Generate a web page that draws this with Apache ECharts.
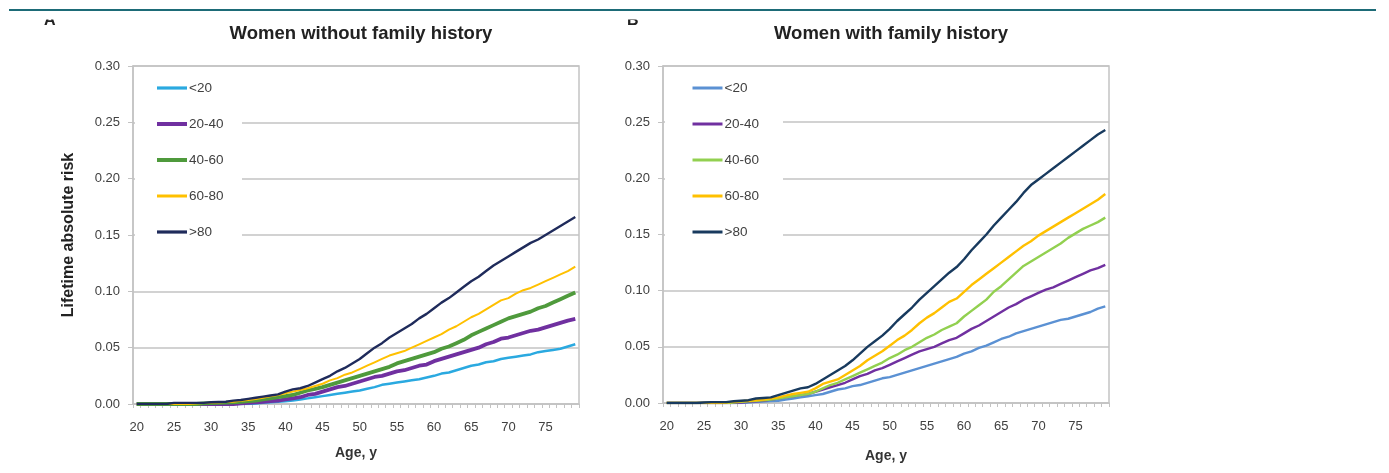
<!DOCTYPE html>
<html><head><meta charset="utf-8">
<script src="https://cdn.jsdelivr.net/npm/echarts@6/dist/echarts.min.js"></script>
<style>html,body{margin:0;padding:0;background:#fff}#c{width:1389px;height:473px}</style>
</head><body><div id="c"></div><script>
// ---- data ----
const ages = [20,21,22,23,24,25,26,27,28,29,30,31,32,33,34,35,36,37,38,39,40,41,42,43,44,45,46,47,48,49,50,51,52,53,54,55,56,57,58,59,60,61,62,63,64,65,66,67,68,69,70,71,72,73,74,75,76,77,78,79];
const groupNames = ['<20','20-40','40-60','60-80','>80'];
const titleLeft = 'Women without family history';
const titleRight = 'Women with family history';

// Women without family history
const noFH_lt20 = [0,0,0,0,0,0,0,0,0,0,0,0,0,0,0,0,0.0005,0.001,0.0015,0.002,0.0025,0.003,0.004,0.005,0.006,0.007,0.008,0.009,0.010,0.011,0.012,0.0135,0.015,0.017,0.018,0.019,0.020,0.021,0.022,0.0235,0.025,0.027,0.028,0.030,0.032,0.034,0.035,0.037,0.038,0.040,0.041,0.042,0.043,0.044,0.046,0.047,0.048,0.049,0.051,0.053];
const noFH_20_40 = [0,0,0,0,0,0,0,0,0,0,0,0,0,0,0.0005,0.001,0.0015,0.002,0.0025,0.003,0.004,0.005,0.006,0.008,0.009,0.011,0.013,0.015,0.016,0.018,0.020,0.022,0.024,0.025,0.027,0.029,0.030,0.032,0.034,0.035,0.038,0.040,0.042,0.044,0.046,0.048,0.050,0.053,0.055,0.058,0.059,0.061,0.063,0.065,0.066,0.068,0.070,0.072,0.074,0.0755];
const noFH_40_60 = [0,0,0,0,0,0,0,0,0,0.0005,0.0008,0.001,0.0012,0.0015,0.002,0.0025,0.003,0.004,0.005,0.006,0.007,0.008,0.010,0.012,0.0135,0.015,0.017,0.019,0.021,0.023,0.025,0.027,0.029,0.031,0.033,0.036,0.038,0.040,0.042,0.044,0.046,0.049,0.051,0.054,0.057,0.061,0.064,0.067,0.070,0.073,0.076,0.078,0.080,0.082,0.085,0.087,0.090,0.093,0.096,0.099];
const noFH_60_80 = [0,0,0,0,0,0,0,0,0.0005,0.0008,0.001,0.0013,0.0017,0.002,0.0028,0.0035,0.0045,0.0055,0.0068,0.008,0.0095,0.011,0.0125,0.014,0.016,0.018,0.021,0.023,0.026,0.028,0.031,0.034,0.037,0.040,0.043,0.045,0.047,0.050,0.053,0.056,0.059,0.062,0.066,0.069,0.073,0.077,0.080,0.084,0.088,0.092,0.094,0.098,0.101,0.103,0.106,0.109,0.112,0.115,0.118,0.122];
const noFH_gt80 = [0,0,0,0,0,0.001,0.001,0.001,0.001,0.001,0.0015,0.0018,0.002,0.003,0.0035,0.0045,0.0055,0.0065,0.0075,0.0085,0.011,0.013,0.014,0.016,0.019,0.022,0.025,0.029,0.032,0.036,0.040,0.045,0.050,0.054,0.059,0.063,0.067,0.071,0.076,0.080,0.085,0.090,0.094,0.099,0.104,0.109,0.113,0.118,0.123,0.127,0.131,0.135,0.139,0.143,0.146,0.150,0.154,0.158,0.162,0.166];

// Women with family history
const FH_lt20 = [0,0,0,0,0,0,0,0,0,0,0,0.0005,0.001,0.0013,0.0017,0.002,0.003,0.004,0.005,0.006,0.007,0.008,0.010,0.012,0.013,0.015,0.016,0.018,0.020,0.022,0.023,0.025,0.027,0.029,0.031,0.033,0.035,0.037,0.039,0.041,0.044,0.046,0.049,0.051,0.054,0.057,0.059,0.062,0.064,0.066,0.068,0.070,0.072,0.074,0.075,0.077,0.079,0.081,0.084,0.086];
const FH_20_40 = [0,0,0,0,0,0,0,0,0,0,0.0005,0.001,0.0015,0.002,0.003,0.004,0.005,0.006,0.007,0.008,0.010,0.012,0.014,0.016,0.018,0.021,0.024,0.026,0.029,0.031,0.034,0.037,0.040,0.043,0.046,0.048,0.050,0.053,0.056,0.058,0.062,0.066,0.069,0.073,0.077,0.081,0.085,0.088,0.092,0.095,0.098,0.101,0.103,0.106,0.109,0.112,0.115,0.118,0.120,0.123];
const FH_40_60 = [0,0,0,0,0,0,0,0,0,0.0005,0.001,0.0015,0.002,0.0025,0.003,0.004,0.005,0.006,0.007,0.008,0.010,0.013,0.016,0.018,0.021,0.024,0.027,0.030,0.033,0.036,0.040,0.043,0.047,0.050,0.054,0.058,0.061,0.065,0.068,0.071,0.077,0.082,0.087,0.092,0.099,0.104,0.110,0.116,0.122,0.126,0.130,0.134,0.138,0.142,0.147,0.151,0.155,0.158,0.161,0.165];
const FH_60_80 = [0,0,0,0,0,0,0,0,0.0005,0.001,0.0015,0.002,0.0025,0.003,0.004,0.005,0.0065,0.008,0.009,0.010,0.013,0.017,0.019,0.021,0.025,0.029,0.033,0.038,0.042,0.046,0.051,0.056,0.060,0.065,0.071,0.076,0.080,0.085,0.090,0.093,0.099,0.105,0.110,0.115,0.120,0.125,0.130,0.135,0.140,0.144,0.149,0.153,0.157,0.161,0.165,0.169,0.173,0.177,0.181,0.186];
const FH_gt80 = [0,0,0,0,0,0.0005,0.0008,0.0008,0.0008,0.0015,0.002,0.0025,0.004,0.0045,0.005,0.007,0.009,0.011,0.013,0.014,0.017,0.021,0.025,0.029,0.033,0.038,0.044,0.050,0.055,0.060,0.066,0.073,0.079,0.085,0.092,0.098,0.104,0.110,0.116,0.121,0.128,0.136,0.143,0.150,0.158,0.165,0.172,0.179,0.187,0.194,0.199,0.204,0.209,0.214,0.219,0.224,0.229,0.234,0.239,0.243];

// ---- styling ----
const leftData = [noFH_lt20, noFH_20_40, noFH_40_60, noFH_60_80, noFH_gt80];
const rightData = [FH_lt20, FH_20_40, FH_40_60, FH_60_80, FH_gt80];
const leftColors = ['#2aa9e0','#7030a0','#4f9a3c','#ffc000','#1f2b5b'];
const rightColors = ['#5b91d3','#7030a0','#92d050','#ffc000','#183a5e'];
const leftWidths = [2.5,3.8,3.8,2,2.4];
const rightWidths = [2.4,2.4,2.4,2.4,2.4];
const leftLegendWidths = [3.2,4,4,3,3.2];
const rightLegendWidths = [3,3,3,3,3];
const PFX = 'fh:';

const FONT = 'Liberation Sans, Arial, sans-serif';
const gridColor = '#c3c3c3';

function xAxisCfg(gridIndex, nameGap) {
  return {
    type: 'category', gridIndex, data: ages, boundaryGap: true,
    name: 'Age, y', nameLocation: 'middle', nameGap,
    nameTextStyle: { fontFamily: FONT, fontWeight: 'bold', fontSize: 14, color: '#333' },
    axisLine: { lineStyle: { color: gridColor, width: 1.5 } },
    axisTick: { show: true, interval: 0, alignWithLabel: false, length: 4, lineStyle: { color: gridColor } },
    axisLabel: { interval: 4, margin: 17, fontFamily: FONT, fontSize: 13, color: '#404040' },
    splitLine: { show: false }
  };
}
function yAxisCfg(gridIndex, withName) {
  const o = {
    type: 'value', gridIndex, min: 0, max: 0.3, interval: 0.05,
    axisLine: { show: true, lineStyle: { color: gridColor, width: 1.5 } },
    axisTick: { show: true, length: 5, lineStyle: { color: gridColor } },
    axisLabel: { margin: 13, fontFamily: FONT, fontSize: 13, color: '#404040', formatter: v => v.toFixed(2) },
    splitLine: { show: true, lineStyle: { color: gridColor, width: 1.5 } }
  };
  if (withName) {
    o.name = 'Lifetime absolute risk';
    o.nameLocation = 'middle';
    o.nameGap = 56;
    o.nameTextStyle = { fontFamily: FONT, fontWeight: 'bold', fontSize: 16, color: '#222' };
  }
  return o;
}

const series = [];
groupNames.forEach((n, i) => {
  series.push({ type: 'line', name: n, xAxisIndex: 0, yAxisIndex: 0, data: leftData[i],
    symbol: 'none', showSymbol: false, lineStyle: { color: leftColors[i], width: leftWidths[i] },
    itemStyle: { color: leftColors[i] }, emphasis: { disabled: true } });
});
groupNames.forEach((n, i) => {
  series.push({ type: 'line', name: PFX + n, xAxisIndex: 1, yAxisIndex: 1, data: rightData[i],
    symbol: 'none', showSymbol: false, lineStyle: { color: rightColors[i], width: rightWidths[i] },
    itemStyle: { color: rightColors[i] }, emphasis: { disabled: true } });
});

function legendCfg(left, names, widths) {
  return {
    orient: 'vertical', left, top: 81, padding: 0,
    itemWidth: 30, itemHeight: 14, itemGap: 22, selectedMode: false,
    data: names.map((n, i) => ({ name: n, lineStyle: { width: widths[i] } })),
    itemStyle: { opacity: 0 },
    formatter: name => name.replace(PFX, ''),
    textStyle: { fontFamily: FONT, fontSize: 13.5, color: '#404040', padding: [0, 0, 0, -3] }
  };
}

const chart = echarts.init(document.getElementById('c'), null, { renderer: 'canvas' });
chart.setOption({
  animation: false,
  backgroundColor: '#fff',
  title: [
    { text: titleLeft, left: 356, top: 19, textAlign: 'center',
      textStyle: { fontFamily: FONT, fontWeight: 'bold', fontSize: 18.5, color: '#222' } },
    { text: titleRight, left: 886, top: 19, textAlign: 'center',
      textStyle: { fontFamily: FONT, fontWeight: 'bold', fontSize: 18.5, color: '#222' } }
  ],
  grid: [
    { left: 133, top: 66, width: 446, height: 338, show: true, borderColor: gridColor, borderWidth: 1.5, backgroundColor: 'transparent' },
    { left: 663, top: 66, width: 446, height: 337, show: true, borderColor: gridColor, borderWidth: 1.5, backgroundColor: 'transparent' }
  ],
  xAxis: [xAxisCfg(0, 42), xAxisCfg(1, 46)],
  yAxis: [yAxisCfg(0, true), yAxisCfg(1, false)],
  legend: [legendCfg(155, groupNames, leftLegendWidths), legendCfg(691, groupNames.map(n => PFX + n), rightLegendWidths)],
  graphic: [
    { type: 'rect', z: 1, silent: true, shape: { x: 135, y: 69, width: 107, height: 180 }, style: { fill: '#fff' } },
    { type: 'rect', z: 1, silent: true, shape: { x: 665, y: 69, width: 118, height: 180 }, style: { fill: '#fff' } },
    { type: 'text', z: 5, silent: true, x: 44, y: 28.5, style: { text: 'A', fontFamily: FONT, fontWeight: 'bold', fontSize: 16, fill: '#222', textVerticalAlign: 'bottom' } },
    { type: 'text', z: 5, silent: true, x: 627, y: 28.5, style: { text: 'B', fontFamily: FONT, fontWeight: 'bold', fontSize: 16, fill: '#222', textVerticalAlign: 'bottom' } },
    { type: 'rect', z: 6, silent: true, shape: { x: 0, y: 11, width: 1389, height: 8.5 }, style: { fill: '#fff' } },
    { type: 'line', z: 7, silent: true, shape: { x1: 9, y1: 10, x2: 1376, y2: 10 }, style: { stroke: '#1d6b77', lineWidth: 2 } }
  ],
  series
});
</script></body></html>
